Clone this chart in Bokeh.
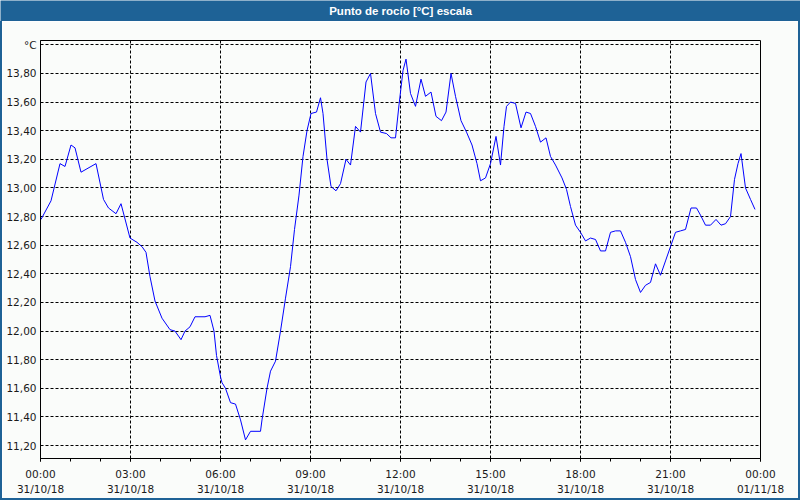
from bokeh.plotting import figure
from bokeh.models import Range1d, FixedTicker, CustomJSTickFormatter, Spacer
from bokeh.layouts import column, row
from bokeh.core.properties import value
from bokeh.embed import file_html
from bokeh.resources import INLINE

# minutes since 00:00 31/10/18
minutes = [1, 21, 39, 49, 61, 69, 81, 111, 126, 136, 151, 161, 179, 193, 203, 211, 219, 229, 243, 259,
           269, 281, 289, 299, 309, 329, 339, 347, 352, 360, 363, 370, 380, 390, 400, 410, 420, 440, 443, 453,
           460, 470, 480, 490, 500, 508, 517, 525, 533, 541, 552, 560, 565, 573, 581, 591, 600, 611, 620, 630,
           640, 651, 660, 670, 680, 692, 701, 710, 717, 725, 731, 740, 750, 761, 770, 781, 791, 802, 811, 821,
           830, 841, 852, 863, 873, 880, 890, 900, 911, 920, 927, 932, 940, 950, 961, 971, 980, 990, 1000, 1011,
           1020, 1030, 1043, 1052, 1060, 1070, 1080, 1090, 1100, 1110, 1120, 1130, 1140, 1150, 1160, 1170, 1180, 1190, 1200, 1210,
           1220, 1230, 1240, 1250, 1260, 1270, 1280, 1290, 1301, 1312, 1320, 1330, 1340, 1351, 1361, 1370, 1380, 1388, 1395, 1401,
           1410, 1420, 1429]
dew_point = [12.78, 12.91, 13.17, 13.15, 13.30, 13.28, 13.11, 13.17, 12.92, 12.86, 12.82, 12.89, 12.65, 12.62, 12.59, 12.55, 12.38, 12.21, 12.09, 12.01,
             12.00, 11.94, 12.00, 12.03, 12.10, 12.10, 12.11, 12.00, 11.83, 11.68, 11.64, 11.60, 11.50, 11.49, 11.38, 11.24, 11.30, 11.30, 11.38, 11.60,
             11.72, 11.79, 12.00, 12.23, 12.45, 12.71, 12.95, 13.22, 13.40, 13.52, 13.53, 13.63, 13.52, 13.20, 13.01, 12.98, 13.03, 13.20, 13.16, 13.43,
             13.39, 13.74, 13.80, 13.52, 13.39, 13.38, 13.35, 13.35, 13.58, 13.82, 13.90, 13.66, 13.57, 13.76, 13.64, 13.67, 13.50, 13.47, 13.53, 13.80,
             13.64, 13.47, 13.39, 13.30, 13.17, 13.05, 13.07, 13.17, 13.36, 13.16, 13.43, 13.57, 13.60, 13.59, 13.42, 13.53, 13.52, 13.43, 13.32, 13.35,
             13.22, 13.16, 13.07, 12.99, 12.87, 12.74, 12.69, 12.63, 12.65, 12.64, 12.56, 12.56, 12.69, 12.70, 12.70, 12.62, 12.52, 12.36, 12.27, 12.32,
             12.34, 12.47, 12.39, 12.49, 12.59, 12.69, 12.70, 12.71, 12.86, 12.86, 12.81, 12.74, 12.74, 12.78, 12.74, 12.75, 12.80, 13.06, 13.17, 13.24,
             13.00, 12.92, 12.85]

x_ticks = [0, 3, 6, 9, 12, 15, 18, 21, 24]
x_tick_labels = ["00:00\n31/10/18", "03:00\n31/10/18", "06:00\n31/10/18", "09:00\n31/10/18", "12:00\n31/10/18",
                 "15:00\n31/10/18", "18:00\n31/10/18", "21:00\n31/10/18", "00:00\n01/11/18"]
y_ticks = [11.2, 11.4, 11.6, 11.8, 12.0, 12.2, 12.4, 12.6, 12.8, 13.0, 13.2, 13.4, 13.6, 13.8, 14.0]
title_text = "Punto de rocío [°C] escala"

hours = [m / 60 for m in minutes]

BG = "#fafcfa"
BLUE = "#1e6296"

# ---- title bar ----
t = figure(width=800, height=21, output_backend="svg", toolbar_location=None,
           x_range=Range1d(0, 1), y_range=Range1d(0, 1), min_border=0)
t.axis.visible = False
t.grid.visible = False
t.background_fill_color = BLUE
t.border_fill_color = BLUE
t.outline_line_color = None
t.text(x=[0.5], y=[0.5], text=[title_text], text_align="center", text_baseline="middle",
       text_color="white", text_font=value("Liberation Sans"), text_font_style="bold",
       text_font_size="11.5px")

# ---- main chart ----
p = figure(width=796, height=477, output_backend="svg", toolbar_location=None,
           x_range=Range1d(0, 24), y_range=Range1d(11.11, 14.03),
           min_border_left=38, min_border_right=38, min_border_top=19, min_border_bottom=38)
p.background_fill_color = BG
p.border_fill_color = BG
p.outline_line_color = "black"
p.outline_line_width = 1

p.line(hours, dew_point, line_color="#0000ff", line_width=1)

p.xaxis.ticker = FixedTicker(ticks=x_ticks, minor_ticks=list(range(0, 25)))
p.xaxis.major_label_overrides = {tk: lb for tk, lb in zip(x_ticks, x_tick_labels)}
p.xaxis.major_label_text_font = "DejaVu Sans"
p.xaxis.major_label_text_font_size = "10.5px"
p.xaxis.major_label_text_color = "#1a1a1a"
p.xaxis.major_label_text_line_height = 1.3
p.xaxis.major_tick_in = 0
p.xaxis.major_tick_out = 3
p.xaxis.minor_tick_in = 0
p.xaxis.minor_tick_out = 3
p.xaxis.major_label_standoff = 6
p.xaxis.axis_line_color = "black"

p.yaxis.ticker = FixedTicker(ticks=y_ticks)
p.yaxis.formatter = CustomJSTickFormatter(code="""
    if (tick > 13.99) { return "°C"; }
    return tick.toFixed(2).replace(".", ",");
""")
p.yaxis.major_label_text_font = "DejaVu Sans"
p.yaxis.major_label_text_font_size = "10.5px"
p.yaxis.major_label_text_color = "#1a1a1a"
p.yaxis.major_tick_in = 0
p.yaxis.major_tick_out = 0
p.yaxis.minor_tick_line_color = None
p.yaxis.major_label_standoff = 4
p.yaxis.axis_line_color = "black"

for g in (p.xgrid, p.ygrid):
    g.grid_line_color = "black"
    g.grid_line_dash = "3 2"
    g.grid_line_width = 1
p.xgrid.ticker = FixedTicker(ticks=x_ticks)
p.ygrid.ticker = FixedTicker(ticks=y_ticks)

# ---- blue frame around the chart ----
left_edge = Spacer(width=2, height=477, styles={"background-color": BLUE})
right_edge = Spacer(width=2, height=477, styles={"background-color": BLUE})
bottom_edge = Spacer(width=800, height=2, styles={"background-color": BLUE})

layout = column(t, row(left_edge, p, right_edge), bottom_edge)

open("out.html", "w").write(file_html(layout, INLINE))
